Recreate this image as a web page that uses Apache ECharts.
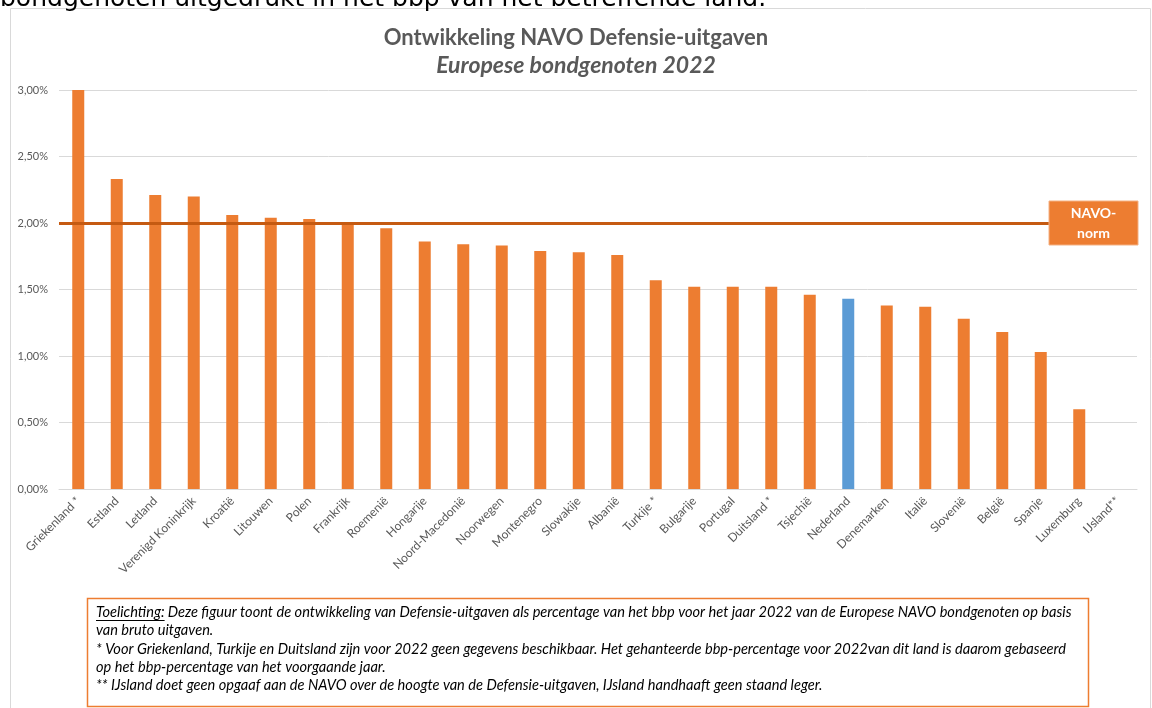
<!DOCTYPE html>
<html>
<head>
<meta charset="utf-8">
<script src="https://cdn.jsdelivr.net/npm/echarts@6/dist/echarts.min.js"></script>
<style>
  html, body { margin: 0; padding: 0; background: #fff; }
  #chart { width: 1152px; height: 708px; }
</style>
</head>
<body>
<div id="chart"></div>
<script>
// landen, gesorteerd zoals in de figuur
const landen = [
  "Griekenland *", "Estland", "Letland", "Verenigd Koninkrijk", "Kroatië", "Litouwen",
  "Polen", "Frankrijk", "Roemenië", "Hongarije", "Noord-Macedonië", "Noorwegen",
  "Montenegro", "Slowakije", "Albanië", "Turkije *", "Bulgarije", "Portugal",
  "Duitsland *", "Tsjechië", "Nederland", "Denemarken", "Italië", "Slovenië",
  "België", "Spanje", "Luxemburg", "IJsland**"
];
// defensie-uitgaven in % van het bbp (2022)
const uitgaven = [
  3.00, 2.33, 2.21, 2.20, 2.06, 2.04,
  2.03, 1.99, 1.96, 1.86, 1.84, 1.83,
  1.79, 1.78, 1.76, 1.57, 1.52, 1.52,
  1.52, 1.46, 1.43, 1.38, 1.37, 1.28,
  1.18, 1.03, 0.60, 0
];
const navoNorm = 2.0;
const yTicks = [0, 0.5, 1.0, 1.5, 2.0, 2.5, 3.0];
const toelichting = [
  "Deze figuur toont de ontwikkeling van Defensie-uitgaven als percentage van het bbp voor het jaar 2022 van de Europese NAVO bondgenoten op basis",
  "van bruto uitgaven.",
  "* Voor Griekenland, Turkije en Duitsland zijn voor 2022 geen gegevens beschikbaar. Het gehanteerde bbp-percentage voor 2022van dit land is daarom gebaseerd",
  "op het bbp-percentage van het voorgaande jaar.",
  "** IJsland doet geen opgaaf aan de NAVO over de hoogte van de Defensie-uitgaven, IJsland handhaaft geen staand leger."
];

const oranje = "#ed7d31";
const donkerOranje = "#c55a11";
const blauw = "#5b9bd5";
const grijs = "#595959";
const noteFont = "italic 14.6px Lato";

const chartObj = echarts.init(document.getElementById("chart"));

// breedte van "Toelichting:" voor de onderstreping
const ctx = document.createElement("canvas").getContext("2d");
ctx.font = noteFont;
const labelW = ctx.measureText("Toelichting:").width;

const noteTexts = toelichting.map((t, i) => ({
  type: "text",
  style: {
    x: i === 0 ? 96 + labelW + 3 : 96,
    y: 612 + i * 18.4,
    text: t,
    font: noteFont,
    fill: "#000",
    verticalAlign: "middle"
  },
  silent: true
}));

const option = {
  animation: false,
  title: {
    text: "Ontwikkeling NAVO Defensie-uitgaven",
    subtext: "Europese bondgenoten 2022",
    left: "center",
    top: 22,
    itemGap: 5,
    textStyle: { fontFamily: "Lato", fontWeight: "bold", fontSize: 22, color: grijs },
    subtextStyle: { fontFamily: "Lato", fontWeight: "bold", fontStyle: "italic", fontSize: 23, color: grijs }
  },
  grid: { left: 59, right: 15, top: 90, bottom: 219, containLabel: false },
  xAxis: {
    type: "category",
    data: landen,
    axisTick: { show: false },
    axisLine: { lineStyle: { color: "#d9d9d9" } },
    axisLabel: {
      rotate: 45,
      interval: 0,
      margin: 10,
      color: grijs,
      fontFamily: "Lato",
      fontSize: 12
    }
  },
  yAxis: {
    type: "value",
    min: yTicks[0],
    max: yTicks[yTicks.length - 1],
    interval: 0.5,
    axisLine: { show: false },
    axisTick: { show: false },
    splitLine: { lineStyle: { color: "#d9d9d9", width: 1 } },
    axisLabel: {
      margin: 11,
      color: grijs,
      fontFamily: "Lato",
      fontSize: 11,
      formatter: v => v.toFixed(2).replace(".", ",") + "%"
    }
  },
  series: [
    {
      type: "bar",
      data: uitgaven,
      barWidth: 12,
      itemStyle: {
        color: p => (landen[p.dataIndex] === "Nederland" ? blauw : oranje)
      },
      markLine: {
        silent: true,
        symbol: "none",
        label: { show: false },
        lineStyle: { color: donkerOranje, width: 3, type: "solid" },
        data: [{ yAxis: navoNorm }]
      }
    }
  ],
  graphic: [
    // afgesneden tekstregel boven de figuur
    {
      type: "text",
      style: {
        x: 0, y: 12,
        text: "bondgenoten uitgedrukt in het bbp van het betreffende land.",
        font: "25px 'DejaVu Sans'",
        fill: "#000",
        verticalAlign: "bottom"
      },
      silent: true
    },
    // kader rond de figuur
    {
      type: "rect",
      shape: { x: 10.5, y: 8.5, width: 1140, height: 720 },
      style: { fill: null, stroke: "#d9d9d9", lineWidth: 1 },
      silent: true,
      z: -1
    },
    // kader toelichting
    {
      type: "rect",
      shape: { x: 87.5, y: 598.5, width: 1001, height: 108 },
      style: { fill: "#fff", stroke: oranje, lineWidth: 1.5 },
      silent: true
    },
    {
      type: "text",
      style: {
        x: 96, y: 612,
        text: "Toelichting:",
        font: noteFont,
        fill: "#000",
        verticalAlign: "middle"
      },
      silent: true
    },
    {
      type: "line",
      shape: { x1: 96, y1: 620.5, x2: 96 + labelW, y2: 620.5 },
      style: { stroke: "#000", lineWidth: 1 },
      silent: true
    }
  ].concat(noteTexts)
};

chartObj.setOption(option);

// NAVO-norm label, verticaal gecentreerd op de normlijn
const normY = chartObj.convertToPixel({ yAxisIndex: 0 }, navoNorm);
chartObj.setOption({
  graphic: option.graphic.concat([
    {
      type: "rect",
      shape: { x: 1049, y: normY - 22, width: 89, height: 44 },
      style: { fill: oranje, stroke: "#f4b183", lineWidth: 1 },
      z: 10
    },
    {
      type: "text",
      z: 11,
      style: {
        x: 1093.5, y: normY,
        text: "NAVO-\nnorm",
        font: "bold 14px Lato",
        lineHeight: 20,
        fill: "#fff",
        align: "center",
        verticalAlign: "middle"
      }
    }
  ])
});

window.addEventListener("resize", function() {
  chartObj.resize();
});
</script>
</body>
</html>
